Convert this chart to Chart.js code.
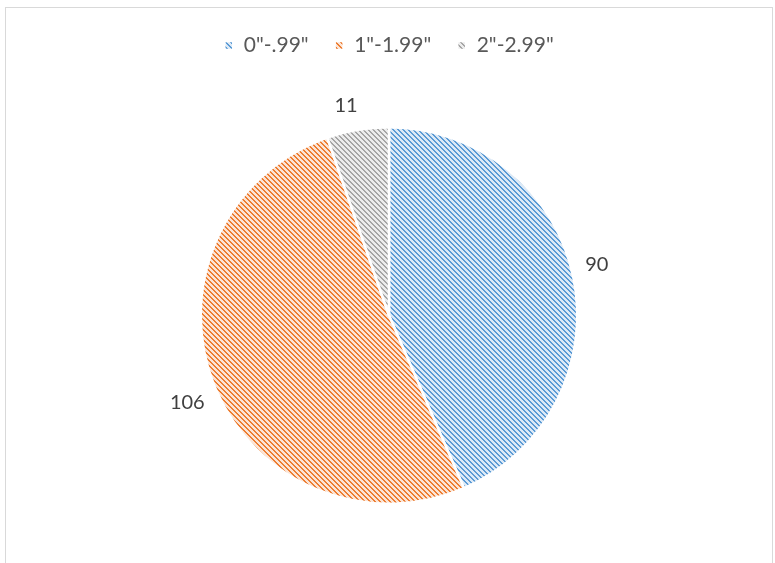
<!DOCTYPE html>
<html>
<head>
<meta charset="utf-8">
<script src="https://cdn.jsdelivr.net/npm/chart.js@4"></script>
<style>
  html, body { margin: 0; padding: 0; background: #fff; }
  #frame {
    position: absolute; left: 5px; top: 7px; width: 766px; height: 560px;
    border: 1px solid #d9d9d9; background: #fff;
  }
  #box { position: absolute; left: 0; top: 0; width: 766px; height: 555px; }
</style>
</head>
<body>
<div id="frame"><div id="box"><canvas id="myChart"></canvas></div></div>
<script>
const labels = ['0"-.99"', '1"-1.99"', '2"-2.99"'];
const counts = [90, 106, 11];
const dotColors = ["#5b9bd5", "#ed7d31", "#a5a5a5"];
const paperColors = ["#dce9f6", "#fbe4d5", "#ececec"];

// diagonal hatch like Excel's pattern fill
const makeHatch = (dot, paper) => {
  const tile = document.createElement("canvas");
  tile.width = 5;
  tile.height = 5;
  const c = tile.getContext("2d");
  c.fillStyle = paper;
  c.fillRect(0, 0, 5, 5);
  c.fillStyle = dot;
  for (let y = 0; y < 5; y++) {
    for (let x = 0; x < 5; x++) {
      if ((x - y + 5) % 5 < 2) c.fillRect(x, y, 1, 1);
    }
  }
  return c.createPattern(tile, "repeat");
};

const backgroundColor = dotColors.map((d, i) => makeHatch(d, paperColors[i]));

// push the pie down below the legend
const legendGap = {
  id: "legendGap",
  beforeInit(chart) {
    const fit = chart.legend.fit;
    chart.legend.fit = function () {
      fit.bind(chart.legend)();
      this.height += 60;
    };
  },
};

// value labels outside each slice
const outsideLabels = {
  id: "outsideLabels",
  afterDatasetsDraw(chart) {
    const ctx = chart.ctx;
    const meta = chart.getDatasetMeta(0);
    ctx.save();
    ctx.font = "20px Lato";
    ctx.fillStyle = "#404040";
    ctx.textBaseline = "middle";
    ctx.textAlign = "center";
    meta.data.forEach((arc, i) => {
      const mid = (arc.startAngle + arc.endAngle) / 2 - 0.035;
      const w = ctx.measureText(String(counts[i])).width;
      const d = arc.outerRadius + 14 + w / 2;
      ctx.fillText(String(counts[i]), arc.x + Math.cos(mid) * d, arc.y + Math.sin(mid) * d);
    });
    ctx.restore();
  },
};

new Chart(document.getElementById("myChart"), {
  type: "pie",
  data: {
    labels,
    datasets: [
      {
        data: counts,
        backgroundColor,
        borderColor: "#ffffff",
        borderWidth: 2.5,
      },
    ],
  },
  options: {
    responsive: true,
    maintainAspectRatio: false,
    animation: false,
    layout: { padding: { top: 1, bottom: 58 } },
    plugins: {
      legend: {
        position: "top",
        labels: {
          font: { family: "Lato", size: 21 },
          color: "#595959",
          boxWidth: 9,
          boxHeight: 9,
          padding: 26,
        },
      },
      tooltip: { enabled: false },
    },
  },
  plugins: [legendGap, outsideLabels],
});
</script>
</body>
</html>
